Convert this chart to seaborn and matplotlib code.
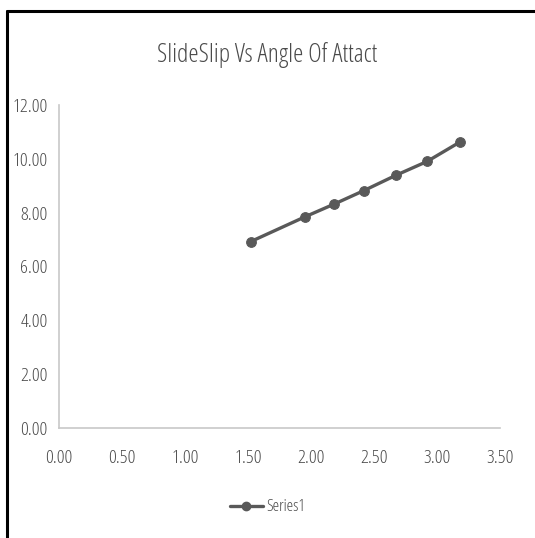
import matplotlib.pyplot as plt
import pandas as pd
import seaborn as sns
from matplotlib.lines import Line2D

# values
angle_of_attack = [1.52, 1.955, 2.185, 2.42, 2.67, 2.92, 3.18]
sideslip = [6.92, 7.85, 8.32, 8.82, 9.38, 9.90, 10.62]
x_ticks = [0.0, 0.5, 1.0, 1.5, 2.0, 2.5, 3.0, 3.5]
y_ticks = [0, 2, 4, 6, 8, 10, 12]

data = pd.DataFrame({'x': angle_of_attack, 'y': sideslip})

sns.set_style('white')
plt.rcParams['font.family'] = ['Open Sans', 'DejaVu Sans']
grey = '#595959'
text_grey = '#4a4a4a'

fig = plt.figure(figsize=(5.35, 5.38), dpi=100)
ax = fig.add_axes([0.110, 0.2045, 0.825, 0.6005])

sns.lineplot(data=data, x='x', y='y', marker='o', color=grey, linewidth=2.4,
             markersize=7, markeredgecolor=grey, ax=ax, sort=False)

ax.set_xlim(0, 3.5)
ax.set_ylim(0, 12)
ax.set_xticks(x_ticks)
ax.set_yticks(y_ticks)
ax.set_xticklabels([f'{v:.2f}' for v in x_ticks], color=text_grey, fontsize=14, fontstretch='condensed')
ax.set_yticklabels([f'{v:.2f}' for v in y_ticks], color=text_grey, fontsize=14, fontstretch='condensed')
ax.tick_params(axis='both', length=0)
ax.tick_params(axis='x', pad=15)
ax.tick_params(axis='y', pad=8)
ax.set_xlabel('')
ax.set_ylabel('')
for side in ['top', 'right']:
    ax.spines[side].set_visible(False)
for side in ['left', 'bottom']:
    ax.spines[side].set_color('#c8c8c8')
    ax.spines[side].set_linewidth(1.2)

fig.text(0.499, 0.897, 'SlideSlip Vs Angle Of Attact', ha='center', va='center',
         fontsize=18.5, color=text_grey, fontstretch='condensed')

handle = Line2D([], [], color=grey, marker='o', linewidth=2.4, markersize=6)
fig.legend([handle], ['Series1'], loc='center', bbox_to_anchor=(0.500, 0.057),
           frameon=False, prop={'size': 12, 'stretch': 'condensed'}, labelcolor=text_grey,
           handlelength=2.0, handletextpad=0.2)

# outer border (top and left edges of the screenshot frame)
fig.add_artist(Line2D([0.013, 1.0], [0.979, 0.979], color='black', linewidth=2.2,
                      transform=fig.transFigure))
fig.add_artist(Line2D([0.013, 0.013], [0.0, 0.979], color='black', linewidth=2.2,
                      transform=fig.transFigure))

fig.savefig('out.png', dpi=100)
